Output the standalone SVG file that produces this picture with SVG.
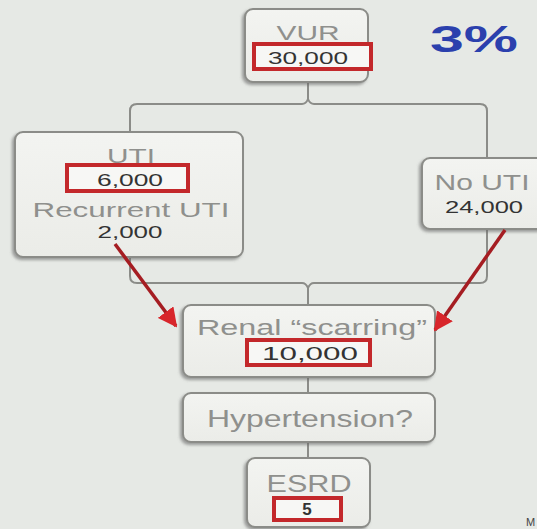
<svg xmlns="http://www.w3.org/2000/svg" width="537" height="529" viewBox="0 0 537 529">
<style>
.box{fill:url(#bg);stroke:#8b8c88;stroke-width:2;filter:url(#sh)}
.red{fill:#f7f7f5;stroke:#c3282b;stroke-width:4}
.lbl{font-family:"Liberation Sans",Arial,sans-serif;fill:#8f908d;text-anchor:middle}
.num{font-family:"Liberation Sans",Arial,sans-serif;fill:#333;text-anchor:middle}
.con{fill:none;stroke:#8b8c88;stroke-width:2}
.arr{fill:none;stroke:#a51d22;stroke-width:3.5;marker-end:url(#ah)}
</style>
<defs>
<linearGradient id="bg" x1="0" y1="0" x2="0" y2="1">
<stop offset="0" stop-color="#f3f4f1"/>
<stop offset="1" stop-color="#ebece8"/>
</linearGradient>
<filter id="sh" x="-10%" y="-10%" width="120%" height="130%">
<feDropShadow dx="-2" dy="2" stdDeviation="1.5" flood-color="#666" flood-opacity="0.6"/>
</filter>
<marker id="ah" viewBox="0 0 10 10" refX="9" refY="5" markerWidth="5.5" markerHeight="5.5" orient="auto" markerUnits="strokeWidth">
<path d="M0,0 L10,5 L0,10 Z" fill="#d8262b"/>
</marker>
</defs>
<rect width="537" height="529" fill="#e6e9e5"/>
<g id="connectors">
<path class="con" d="M308,82 V99"/>
<path class="con" d="M130,132 V111 Q130,104 137,104 H302 Q306,104 308,99 Q310,104 314,104 H480 Q487,104 487,111 V158"/>
<path class="con" d="M130,257 V276 Q130,283 137,283 H302 Q306,283 308,288 V305"/>
<path class="con" d="M308,288 Q310,283 314,283 H480 Q487,283 487,276 V229"/>
<path class="con" d="M308,377 V393"/>
<path class="con" d="M308,442 V458"/>
</g>
<g id="vur">
<rect class="box" x="245" y="9" width="123" height="73" rx="8"/>
<text class="lbl" x="308" y="40" font-size="21" textLength="63" lengthAdjust="spacingAndGlyphs">VUR</text>
<rect class="red" x="254" y="44" width="117" height="25"/>
<text class="num" x="308" y="64" font-size="17" textLength="80" lengthAdjust="spacingAndGlyphs">30,000</text>
</g>
<g id="pct">
<text x="474" y="52" font-family="Liberation Sans,Arial,sans-serif" font-weight="bold" font-size="37" fill="#2b40ad" text-anchor="middle" textLength="88" lengthAdjust="spacingAndGlyphs">3%</text>
</g>
<g id="uti">
<rect class="box" x="15" y="132" width="228" height="125" rx="8"/>
<text class="lbl" x="131" y="163" font-size="21" textLength="48" lengthAdjust="spacingAndGlyphs">UTI</text>
<rect class="red" x="67" y="165" width="121" height="26"/>
<text class="num" x="130" y="186" font-size="16" textLength="66" lengthAdjust="spacingAndGlyphs">6,000</text>
<text class="lbl" x="131" y="217" font-size="21" textLength="197" lengthAdjust="spacingAndGlyphs">Recurrent UTI</text>
<text class="num" x="130" y="238" font-size="16" textLength="65" lengthAdjust="spacingAndGlyphs">2,000</text>
</g>
<g id="nouti">
<rect class="box" x="422" y="158" width="125" height="71" rx="8"/>
<text class="lbl" x="482" y="190" font-size="22" textLength="95" lengthAdjust="spacingAndGlyphs">No UTI</text>
<text class="num" x="484" y="213" font-size="17" textLength="78" lengthAdjust="spacingAndGlyphs">24,000</text>
</g>
<g id="renal">
<rect class="box" x="183" y="305" width="252" height="72" rx="8"/>
<text class="lbl" x="312" y="335" font-size="22" textLength="230" lengthAdjust="spacingAndGlyphs">Renal “scarring”</text>
<rect class="red" x="247" y="340" width="123" height="25"/>
<text class="num" x="310" y="360" font-size="19" textLength="96" lengthAdjust="spacingAndGlyphs">10,000</text>
</g>
<g id="hyp">
<rect class="box" x="183" y="393" width="252" height="49" rx="8"/>
<text class="lbl" x="310" y="427" font-size="24" textLength="206" lengthAdjust="spacingAndGlyphs">Hypertension?</text>
</g>
<g id="esrd">
<rect class="box" x="247" y="458" width="123" height="69" rx="8"/>
<text class="lbl" x="309" y="492" font-size="23" textLength="85" lengthAdjust="spacingAndGlyphs">ESRD</text>
<rect class="red" x="274" y="498" width="67" height="22"/>
<text class="num" x="307" y="515" font-size="17" font-weight="bold" fill="#444">5</text>
</g>
<g id="arrows">
<path class="arr" d="M115,244 L176,326"/>
<path class="arr" d="M505,230 L435,330"/>
</g>
<text x="526" y="526" font-family="Liberation Sans,Arial,sans-serif" font-size="11" fill="#444">M</text>
</svg>
